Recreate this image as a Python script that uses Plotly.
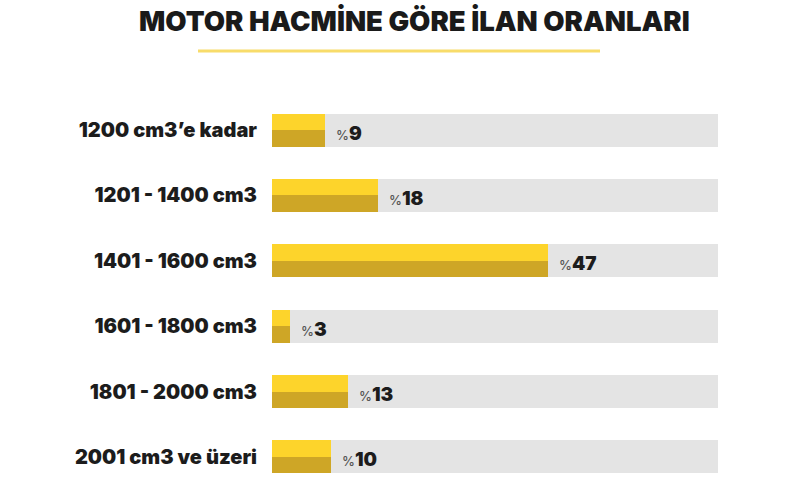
import plotly.graph_objects as go

categories = ["1200 cm3’e kadar", "1201 - 1400 cm3", "1401 - 1600 cm3",
              "1601 - 1800 cm3", "1801 - 2000 cm3", "2001 cm3 ve üzeri"]
values = [9, 18, 47, 3, 13, 10]
title_text = "MOTOR HACMİNE GÖRE İLAN ORANLARI"

XMAX = 76
pos = list(range(len(categories)))
FONT = "Inter"

fig = go.Figure()
# gray track
fig.add_trace(go.Bar(y=pos, x=[XMAX] * len(pos), orientation="h",
                     width=0.505, marker=dict(color="#E4E4E4", line=dict(width=0)),
                     hoverinfo="skip", showlegend=False))
# top half (bright yellow) and bottom half (dark gold)
fig.add_trace(go.Bar(y=pos, x=values, orientation="h", width=0.2525, offset=-0.2525,
                     marker=dict(color="#FDD42B", line=dict(width=0)), showlegend=False))
fig.add_trace(go.Bar(y=pos, x=values, orientation="h", width=0.2525, offset=0,
                     marker=dict(color="#CEA626", line=dict(width=0)), showlegend=False))

for p, v in zip(pos, values):
    fig.add_annotation(x=v, y=p, xref="x", yref="y", xanchor="left", yanchor="middle",
                       xshift=9, yshift=-3, showarrow=False,
                       text=f"<span style='font-size:13px;color:#555;font-weight:500'>%</span>{v}",
                       font=dict(family=FONT, size=19, color="#1c1c1c", weight=900))

fig.update_layout(
    width=800, height=485,
    margin=dict(l=272, r=82, t=90, b=0),
    paper_bgcolor="white", plot_bgcolor="white",
    barmode="overlay", bargap=0,
    title=dict(text=title_text, x=0.518, xanchor="center", y=0.955, yanchor="middle",
               font=dict(family=FONT, size=27.5, color="#1a1a1a", weight=900)),
    xaxis=dict(range=[0, XMAX], visible=False, fixedrange=True),
    yaxis=dict(range=[5.43, -0.612], tickvals=pos,
               ticktext=categories,
               tickfont=dict(family=FONT, size=20, color="#1c1c1c", weight=900),
               showgrid=False, zeroline=False, showline=False, ticks="",
               ticklabelstandoff=14),
    shapes=[dict(type="line", xref="paper", yref="paper",
                 x0=(198 - 272) / 446, x1=(600 - 272) / 446,
                 y0=(485 - 51) / 395, y1=(485 - 51) / 395,
                 line=dict(color="#F8DC6A", width=3))],
    showlegend=False,
)

fig.write_html("out.html")
